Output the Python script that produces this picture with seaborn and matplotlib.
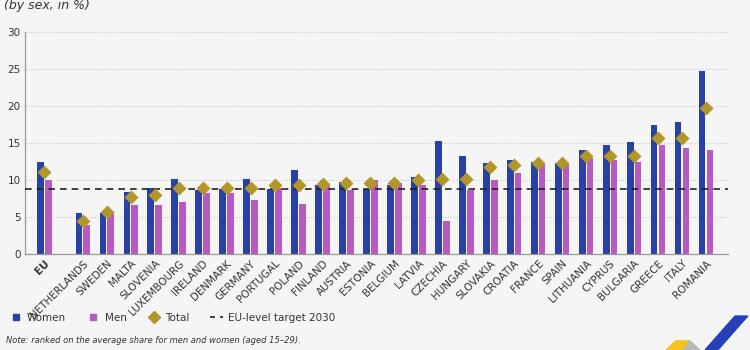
import matplotlib
matplotlib.use("Agg")
import matplotlib.pyplot as plt
from matplotlib.lines import Line2D
from matplotlib.patches import Polygon
import numpy as np
import pandas as pd
import seaborn as sns

# Young people neither in employment nor in education (NEET), by sex, in %
countries = ['EU', 'NETHERLANDS', 'SWEDEN', 'MALTA', 'SLOVENIA', 'LUXEMBOURG', 'IRELAND',
             'DENMARK', 'GERMANY', 'PORTUGAL', 'POLAND', 'FINLAND', 'AUSTRIA', 'ESTONIA',
             'BELGIUM', 'LATVIA', 'CZECHIA', 'HUNGARY', 'SLOVAKIA', 'CROATIA', 'FRANCE',
             'SPAIN', 'LITHUANIA', 'CYPRUS', 'BULGARIA', 'GREECE', 'ITALY', 'ROMANIA']
women = [12.4, 5.6, 5.6, 8.4, 9.0, 10.1, 8.7, 8.8, 10.2, 8.8, 11.4, 9.3, 9.8, 8.8,
         9.4, 10.4, 15.3, 13.2, 12.3, 12.7, 12.5, 12.3, 14.1, 14.8, 15.2, 17.4, 17.8, 24.8]
men = [10.0, 4.0, 5.5, 6.6, 6.6, 7.0, 8.2, 8.3, 7.3, 8.9, 6.8, 9.2, 8.7, 10.0,
       9.6, 9.4, 4.5, 8.6, 10.0, 11.0, 12.2, 12.3, 13.0, 12.7, 12.5, 14.8, 14.4, 14.1]
total = [11.1, 4.5, 5.7, 7.7, 8.0, 9.0, 8.9, 9.0, 9.0, 9.3, 9.3, 9.5, 9.6, 9.6,
         9.6, 10.0, 10.1, 10.2, 11.8, 12.0, 12.3, 12.3, 13.2, 13.3, 13.3, 15.7, 15.7, 19.8]
target_2030 = 8.8

# EU sits apart from the member states
eu_gap = 1.6
xpos = np.concatenate([[0.0], eu_gap + np.arange(len(countries) - 1)])

df = pd.DataFrame({'pos': np.tile(xpos, 2),
                   'Sex': ['Women'] * len(countries) + ['Men'] * len(countries),
                   'Value': women + men})
df_total = pd.DataFrame({'pos': xpos, 'Total': total})

c_women = '#2741A6'
c_men = '#B65BC2'
c_total = '#B3962A'
bg = '#F5F5F5'

sns.set_style('white')
plt.rcParams['font.family'] = ['Liberation Sans Narrow', 'DejaVu Sans']

fig = plt.figure(figsize=(7.5, 3.5), dpi=100, facecolor=bg)
ax = fig.add_axes([0.033, 0.274, 0.938, 0.634])
ax.set_facecolor(bg)

sns.barplot(data=df, x='pos', y='Value', hue='Sex', native_scale=True,
            palette={'Women': c_women, 'Men': c_men}, width=0.65, gap=0.14,
            saturation=1, linewidth=0, ax=ax, legend=False, zorder=2)
sns.pointplot(data=df_total, x='pos', y='Total', native_scale=True, color=c_total,
              markers='D', linestyle='none', markersize=5.3, ax=ax, zorder=4)
ax.axhline(target_2030, color='#222222', lw=1.2, ls=(0, (4, 3)), zorder=3)

ax.set_ylim(0, 30)
ax.set_xlim(-0.824, 28.53)
ax.set_yticks(np.arange(0, 31, 5))
ax.yaxis.grid(True, color='#C8C8C8', ls=(0, (1, 1.5)), lw=0.8)
ax.set_axisbelow(True)
for s in ['top', 'right']:
    ax.spines[s].set_visible(False)
for s in ['left', 'bottom']:
    ax.spines[s].set_color('#999999')
    ax.spines[s].set_linewidth(0.9)
ax.set_xlabel('')
ax.set_ylabel('')
ax.tick_params(axis='both', length=0, labelsize=7.5, colors='#333333', pad=3)
ax.set_xticks(xpos)
ax.set_xticklabels(countries, rotation=45, ha='right', rotation_mode='anchor')
ax.get_xticklabels()[0].set_fontweight('bold')

fig.text(0.006, 0.985, '(by sex, in %)', fontsize=9, style='italic', color='#333333',
         va='center', ha='left')

handles = [Line2D([], [], marker='s', color=c_women, ls='none', markersize=5),
           Line2D([], [], marker='s', color=c_men, ls='none', markersize=5),
           Line2D([], [], marker='D', color=c_total, ls='none', markersize=6),
           Line2D([], [], color='#222222', lw=1.2, ls=(0, (3, 3)))]
labels = ['Women', 'Men', 'Total', 'EU-level target 2030']
fig.legend(handles, labels, loc='center left', bbox_to_anchor=(0.0, 0.092), ncol=4,
           frameon=False, fontsize=7.5, handlelength=1.2, handletextpad=0.5,
           columnspacing=2.0, labelcolor='#333333')

fig.text(0.008, 0.028, 'Note: ranked on the average share for men and women (aged 15\u201329).',
         fontsize=6, style='italic', color='#333333', va='center', ha='left')

# corner logo decoration
fig.patches.append(Polygon([(0.888, 0.0), (0.901, 0.026), (0.92, 0.026), (0.911, 0.0)],
                           closed=True, transform=fig.transFigure, color='#F5C518'))
fig.patches.append(Polygon([(0.911, 0.0), (0.92, 0.026), (0.933, 0.0)],
                           closed=True, transform=fig.transFigure, color='#B8B8B8'))
fig.patches.append(Polygon([(0.94, 0.0), (0.98, 0.097), (0.997, 0.097), (0.957, 0.0)],
                           closed=True, transform=fig.transFigure, color='#2540B8'))

fig.savefig('out.png', dpi=100, facecolor=bg)
